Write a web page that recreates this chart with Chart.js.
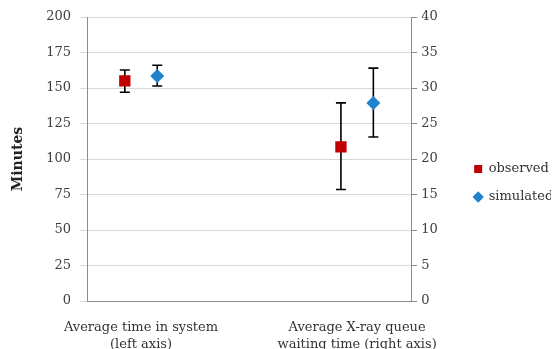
<!DOCTYPE html>
<html>
<head>
<meta charset="utf-8">
<script src="https://cdn.jsdelivr.net/npm/chart.js@4.4.0/dist/chart.umd.min.js"></script>
<style>
  html, body { margin: 0; padding: 0; background: #fff; }
  #wrap { width: 557px; height: 349px; }
</style>
</head>
<body>
<div id="wrap"><canvas id="chart"></canvas></div>
<script>
// categories sit at x = 1 and x = 5 on a 0..6 linear axis
const categories = [['Average time in system', '(left axis)'], ['Average X-ray queue', 'waiting time (right axis)']];
const categoryPos = [1, 5];

// first value is read on the left axis (minutes), second on the right axis
const observed = [155, 21.7];
const observedLow = [147, 15.7];
const observedHigh = [162.7, 27.9];

const simulated = [158.5, 27.9];
const simulatedLow = [151.4, 23.1];
const simulatedHigh = [166, 32.8];

const leftMax = 200, leftStep = 25;
const rightMax = 40, rightStep = 5;

const RED = '#c00000';
const BLUE = '#1f82cc';
const FONT = "'DejaVu Serif', serif";

function pt(i, shift, vals) { return [{ x: categoryPos[i] + shift, y: vals[i] }]; }

function makeSet(label, i, shift, vals, low, high, style, color, radius, axis) {
    return {
        label: label,
        data: pt(i, shift, vals),
        errLow: [low[i]],
        errHigh: [high[i]],
        yAxisID: axis,
        pointStyle: style,
        pointRadius: radius,
        pointHoverRadius: radius,
        backgroundColor: color,
        borderColor: color,
        borderWidth: 0,
        showLine: false
    };
}

// error bars drawn under the markers
const errorBars = {
    id: 'errorBars',
    beforeDatasetsDraw(chart) {
        const ctx = chart.ctx;
        ctx.save();
        ctx.strokeStyle = '#000';
        ctx.lineWidth = 1.6;
        chart.data.datasets.forEach((ds, di) => {
            const meta = chart.getDatasetMeta(di);
            const sc = chart.scales[ds.yAxisID];
            meta.data.forEach((p, j) => {
                const yl = sc.getPixelForValue(ds.errLow[j]);
                const yh = sc.getPixelForValue(ds.errHigh[j]);
                const x = p.x;
                ctx.beginPath();
                ctx.moveTo(x, yl); ctx.lineTo(x, yh);
                ctx.moveTo(x - 5, yl); ctx.lineTo(x + 5, yl);
                ctx.moveTo(x - 5, yh); ctx.lineTo(x + 5, yh);
                ctx.stroke();
            });
        });
        ctx.restore();
    }
};

const ctx = document.getElementById('chart').getContext('2d');
new Chart(ctx, {
    type: 'scatter',
    data: {
        datasets: [
            makeSet('observed', 0, -0.3, observed, observedLow, observedHigh, 'rect', RED, 8, 'y'),
            makeSet('simulated', 0, 0.3, simulated, simulatedLow, simulatedHigh, 'rectRot', BLUE, 7, 'y'),
            makeSet('observed', 1, -0.3, observed, observedLow, observedHigh, 'rect', RED, 8, 'y2'),
            makeSet('simulated', 1, 0.3, simulated, simulatedLow, simulatedHigh, 'rectRot', BLUE, 7, 'y2')
        ]
    },
    options: {
        responsive: true,
        maintainAspectRatio: false,
        animation: false,
        layout: { padding: { top: 17, left: 0, right: 6, bottom: 0 } },
        plugins: {
            tooltip: { enabled: false },
            legend: {
                position: 'right',
                align: 'center',
                labels: {
                    usePointStyle: true,
                    boxHeight: 8,
                    boxWidth: 8,
                    padding: 15,
                    color: '#333',
                    font: { family: FONT, size: 13 },
                    filter: item => item.datasetIndex < 2
                }
            }
        },
        scales: {
            x: {
                type: 'linear',
                min: 0,
                max: 6,
                afterBuildTicks: s => { s.ticks = categoryPos.map(v => ({ value: v })); },
                afterFit: s => { s.height = 48; },
                grid: { display: false, drawTicks: false },
                border: { display: true, color: '#8c8c8c' },
                ticks: {
                    autoSkip: false,
                    maxRotation: 0,
                    padding: 18,
                    color: '#333',
                    font: { family: FONT, size: 13, lineHeight: 1.3 },
                    callback: (v, i) => categories[i]
                }
            },
            y: {
                position: 'left',
                min: 0,
                max: leftMax,
                afterFit: s => { s.width = 87; },
                grid: { color: '#d9d9d9', tickLength: 7 },
                border: { color: '#8c8c8c' },
                ticks: { stepSize: leftStep, padding: 9, color: '#404040', font: { family: FONT, size: 13 } },
                title: { display: true, text: 'Minutes', color: '#222', padding: { top: 10, bottom: 0 }, font: { family: FONT, size: 14, weight: 'bold' } }
            },
            y2: {
                position: 'right',
                min: 0,
                max: rightMax,
                afterFit: s => { s.width = 48; },
                grid: { drawOnChartArea: false, color: '#8c8c8c', tickLength: 6 },
                border: { color: '#8c8c8c' },
                ticks: { stepSize: rightStep, padding: 4, color: '#404040', font: { family: FONT, size: 13 } }
            }
        }
    },
    plugins: [errorBars]
});
</script>
</body>
</html>
